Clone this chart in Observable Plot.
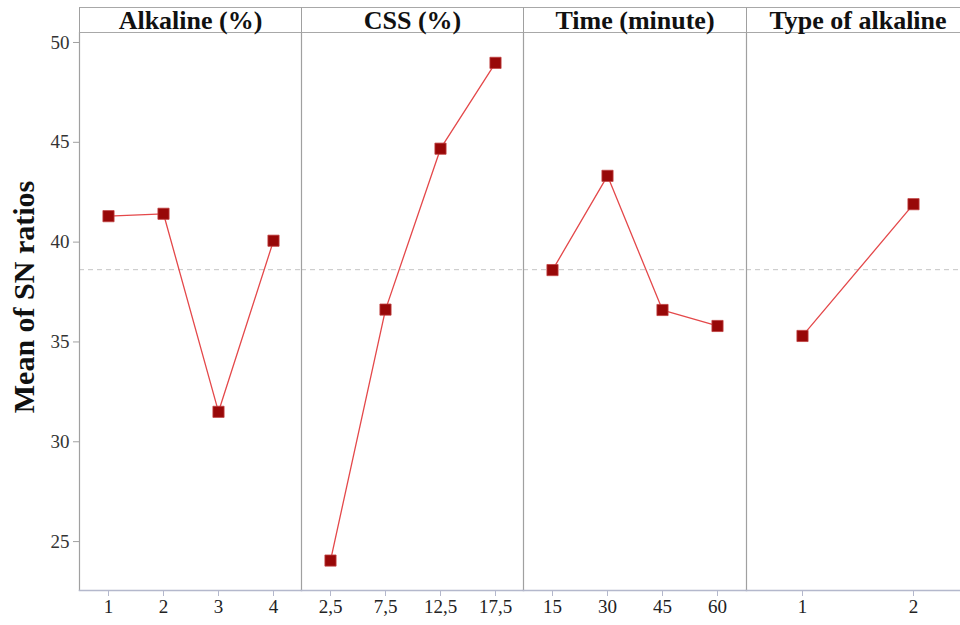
<!DOCTYPE html>
<html><head><meta charset="utf-8">
<script src="https://cdn.jsdelivr.net/npm/d3@7"></script>
<script src="https://cdn.jsdelivr.net/npm/@observablehq/plot@0.6"></script>
<style>
html,body{margin:0;padding:0;overflow:hidden;background:#fff;width:960px;height:625px;}
#wrap{position:absolute;left:0;top:0;width:980px;height:625px;}
.panel{position:absolute;top:0;}
.panel svg text{font-family:"Liberation Serif","Times New Roman","DejaVu Serif",serif !important;}
.hdr{position:absolute;top:7px;height:24px;border-top:1px solid #a8a8a8;border-bottom:1px solid #a8a8a8;border-left:1px solid #a0a0a0;box-sizing:content-box;overflow:visible;
 font-family:"Liberation Serif","Times New Roman","DejaVu Serif",serif;font-weight:bold;font-size:26px;line-height:26px;text-align:center;color:#111;}
#ylab{position:absolute;left:24px;top:297px;transform:translate(-50%,-50%) rotate(-90deg);white-space:nowrap;
 font-family:"Liberation Serif","Times New Roman","DejaVu Serif",serif;font-weight:bold;font-size:30px;color:#111;}
</style></head>
<body><div id="wrap"><div id="ylab">Mean of SN ratios</div></div>
<script>
const panelTitles = ["Alkaline (%)", "CSS (%)", "Time (minute)", "Type of alkaline"];
const alkalineLevels = ["1", "2", "3", "4"];
const alkalineSN = [41.3, 41.42, 31.5, 40.07];
const cssLevels = ["2,5", "7,5", "12,5", "17,5"];
const cssSN = [24.05, 36.62, 44.68, 48.98];
const timeLevels = ["15", "30", "45", "60"];
const timeSN = [38.6, 43.32, 36.6, 35.8];
const typeLevels = ["1", "2"];
const typeSN = [35.3, 41.9];
const grandMean = 38.62;
const yTicks = [25, 30, 35, 40, 45, 50];

const panels = [
  {title: panelTitles[0], levels: alkalineLevels, values: alkalineSN},
  {title: panelTitles[1], levels: cssLevels, values: cssSN},
  {title: panelTitles[2], levels: timeLevels, values: timeSN},
  {title: panelTitles[3], levels: typeLevels, values: typeSN}
];
const widths = [222, 222, 223, 223];
const yDomain = [22.55, 50.5];
const wrap = document.getElementById("wrap");
let left = 0;
panels.forEach((p, i) => {
  const first = i === 0;
  const ml = first ? 79 : 0;
  const data = p.levels.map((l, j) => ({level: l, sn: p.values[j]}));
  const chart = Plot.plot({
    width: widths[i] + ml,
    height: 625,
    marginLeft: ml,
    marginRight: 0,
    marginTop: 32,
    marginBottom: 35,
    style: {fontSize: "19px", color: "#222", background: "transparent", overflow: "visible"},
    x: {type: "point", domain: p.levels, padding: 0.5, label: null, axis: null},
    y: {domain: yDomain, label: null, axis: null},
    marks: [
      Plot.ruleY([grandMean], {stroke: "#c4c4c4", strokeWidth: 1, strokeDasharray: "5,4"}),
      Plot.frame({anchor: "left", stroke: "#a0a0a0", strokeWidth: 1.2}),
      Plot.frame({anchor: "bottom", stroke: "#b4b8cc", strokeWidth: 1.5}),
      Plot.axisX({tickSize: 6, tickPadding: 3, stroke: "#b4b8cc", fontSize: 19, fill: "#222"}),
      first ? Plot.axisY({ticks: yTicks, tickSize: 6, tickPadding: 4, stroke: "#a0a0a0", fontSize: 19, fill: "#333"}) : null,
      Plot.line(data, {x: "level", y: "sn", stroke: "#e4484a", strokeWidth: 1.3}),
      Plot.dot(data, {x: "level", y: "sn", symbol: "square", r: 6.3, fill: "#980808", stroke: "#c04040", strokeWidth: 0.8})
    ]
  });
  const holder = document.createElement("div");
  holder.className = "panel";
  holder.style.left = left + "px";
  holder.appendChild(chart);
  wrap.appendChild(holder);
  const hdr = document.createElement("div");
  hdr.className = "hdr";
  hdr.style.left = (left + ml) + "px";
  hdr.style.width = (widths[i] - 1) + "px";
  hdr.textContent = p.title;
  wrap.appendChild(hdr);
  left += widths[i] + ml;
});
</script></body></html>
